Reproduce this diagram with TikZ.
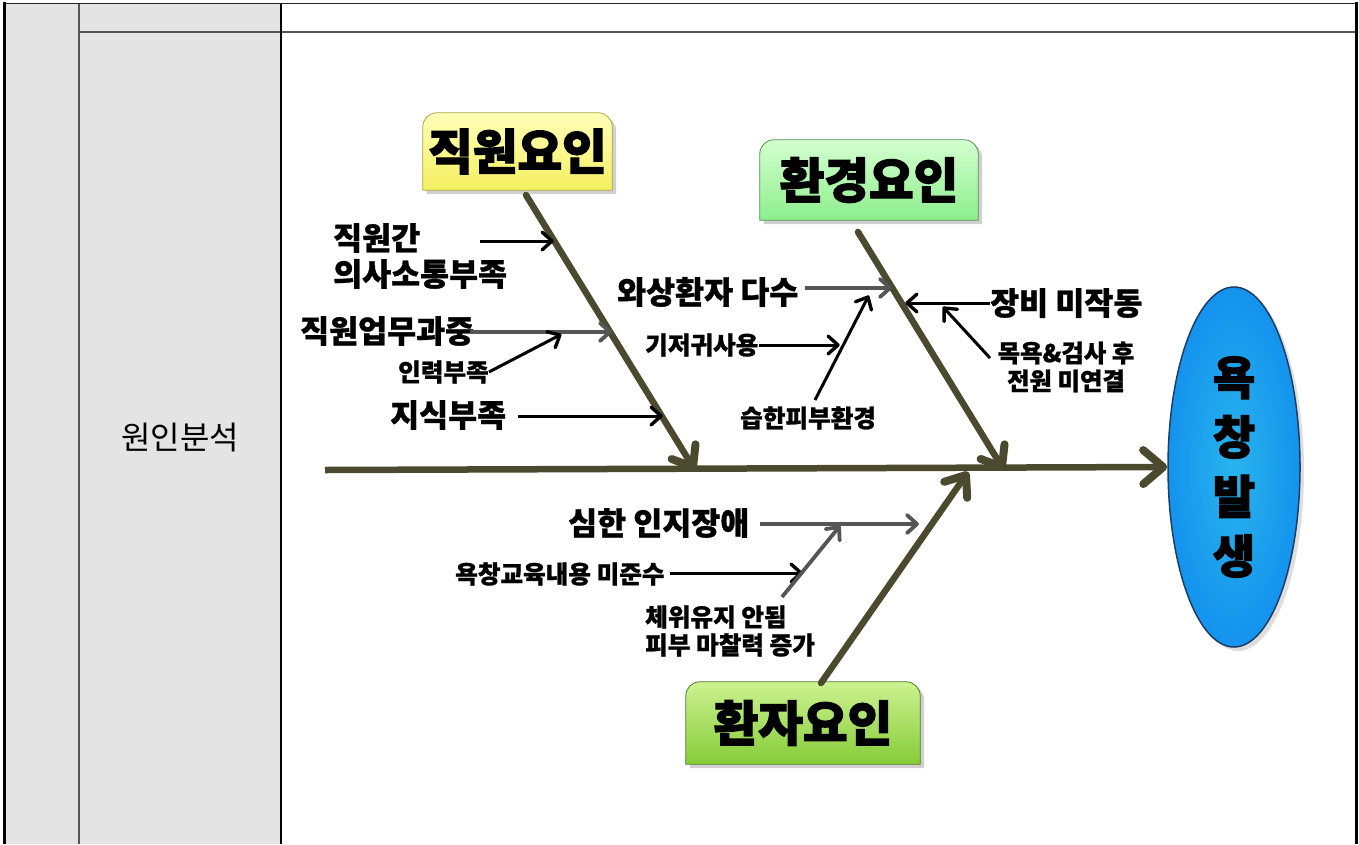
\documentclass[tikz,border=0pt]{standalone}
\usepackage{fontspec}
\setmainfont{Noto Sans CJK KR}
\newfontfamily\heavy{Noto Sans CJK KR}[BoldFeatures={FakeBold=2.5}]
\newfontfamily\semi{Noto Sans CJK KR}[BoldFeatures={FakeBold=1}]
\usetikzlibrary{backgrounds,shapes.geometric,decorations.markings}
\definecolor{bone}{HTML}{4B4A2E}
\definecolor{tablegrey}{HTML}{E4E4E4}
\definecolor{arrgrey}{HTML}{555555}
\definecolor{ellblue}{HTML}{17ADEB}
\definecolor{ellborder}{HTML}{1C3F66}
\definecolor{ytop}{HTML}{FFFFB8}\definecolor{ybot}{HTML}{F4F060}
\definecolor{gtop}{HTML}{D4FFD0}\definecolor{gbot}{HTML}{8CEE8C}
\definecolor{ltop}{HTML}{CCF290}\definecolor{lbot}{HTML}{86CC38}
\tikzset{
  chev/.style n args={4}{postaction={decorate, decoration={markings,
     mark=at position 1 with {\draw[draw=#4, line width=#1, line cap=round, line join=round] (-#2,#3) -- (0pt,0pt) -- (-#2,-#3);}}}},
  bonestyle/.style={draw=bone, line width=6.5pt, line cap=round, chev={8pt}{18pt}{14pt}{bone}},
  spinestyle/.style={draw=bone, line width=6.5pt, chev={8pt}{20pt}{17pt}{bone}},
  blk/.style={draw=black, line width=3pt, chev={3.4pt}{10pt}{9pt}{black}},
  gry/.style={draw=arrgrey, line width=3.8pt, chev={3.8pt}{10pt}{9pt}{arrgrey}},
  lab/.style={inner sep=0pt, anchor=west, font=\semi\bfseries\fontsize{31.5}{36}\selectfont},
  slab/.style={inner sep=0pt, anchor=west, font=\semi\bfseries\fontsize{24.6}{28}\selectfont},
  boxlab/.style={inner sep=0pt, font=\heavy\bfseries\fontsize{48.5}{52}\selectfont},
}
\begin{document}
\begin{tikzpicture}[x=1pt,y=-1pt]
\useasboundingbox (0,0) rectangle (1359,844);
% factor boxes (nodes)
\node[boxlab, minimum width=189pt, minimum height=77pt] (jw) at (517.5,151.5) {직원요인};
\node[boxlab, minimum width=218pt, minimum height=80pt] (hg) at (869,180) {환경요인};
\node[boxlab, minimum width=234pt, minimum height=82pt] (hj) at (803,723) {환자요인};
\node[draw=ellborder, line width=1.5pt, ellipse, minimum width=132pt, minimum height=360pt, inner sep=0pt,
      font=\heavy\bfseries\fontsize{46}{59.5}\selectfont, align=center,
      inner color=ellblue!92!white, outer color=ellblue!85!blue] (ell) at (1234,467) {욕\\창\\발\\생};
\begin{scope}[on background layer]
  % table
  \fill[white] (0,0) rectangle (1359,844);
  \fill[tablegrey] (5,4) rectangle (281,844);
  \draw[arrgrey, line width=1.6pt] (79,32) -- (1355,32);
  \draw[arrgrey, line width=1.2pt] (79,4) -- (79,844);
  \draw[black, line width=1.6pt] (281,4) -- (281,844);
  \draw[black!85, line width=1.6pt] (4,3.5) -- (1356,3.5);
  \draw[black, line width=3pt] (4.5,2) -- (4.5,844);
  \draw[black, line width=3pt] (1356,2) -- (1356,844);
  % box shapes
  \fill[black!30, opacity=0.6] ([shift={(4,4)}]jw.south west) [rounded corners=14pt] -- ([shift={(4,4)}]jw.north west) -- ([shift={(4,4)}]jw.north east) [sharp corners] -- ([shift={(4,4)}]jw.south east) -- cycle;
  \shade[top color=ytop, bottom color=ybot, draw=ybot!70!black, line width=0.8pt] (jw.south west) [rounded corners=14pt] -- (jw.north west) -- (jw.north east) [sharp corners] -- (jw.south east) -- cycle;
  \fill[black!30, opacity=0.6] ([shift={(4,4)}]hg.south west) [rounded corners=14pt] -- ([shift={(4,4)}]hg.north west) -- ([shift={(4,4)}]hg.north east) [sharp corners] -- ([shift={(4,4)}]hg.south east) -- cycle;
  \shade[top color=gtop, bottom color=gbot, draw=gbot!60!black, line width=0.8pt] (hg.south west) [rounded corners=14pt] -- (hg.north west) -- (hg.north east) [sharp corners] -- (hg.south east) -- cycle;
  \fill[black!30, opacity=0.6] ([shift={(4,4)}]hj.south west) [rounded corners=14pt] -- ([shift={(4,4)}]hj.north west) -- ([shift={(4,4)}]hj.north east) [sharp corners] -- ([shift={(4,4)}]hj.south east) -- cycle;
  \shade[top color=ltop, bottom color=lbot, draw=lbot!60!black, line width=0.8pt] (hj.south west) [rounded corners=14pt] -- (hj.north west) -- (hj.north east) [sharp corners] -- (hj.south east) -- cycle;
  \fill[black!25, opacity=0.5] (1238,471) ellipse [x radius=66pt, y radius=180pt];
\end{scope}
\node[inner sep=0pt, font=\fontsize{32}{36}\selectfont] (wa) at (180,438) {원인분석};

% bones
\coordinate (s0) at (325,470);
\coordinate (b1s) at (526,195);
\coordinate (b1e) at (693,467);
\coordinate (b2s) at (858,232);
\coordinate (b2e) at (1002,467);
\coordinate (b3s) at (821,683);
\coordinate (b3e) at (966,475);
\draw[spinestyle] (s0) -- ([xshift=-4pt]ell.west);
\draw[bonestyle] (b1s) -- (b1e);
\draw[bonestyle] (b2s) -- (b2e);
\draw[bonestyle] (b3s) -- (b3e);

% staff factors
\node[lab, align=left] (t1) at (333,256) {직원간\\의사소통부족};
\coordinate (t1s) at (480,241); \coordinate (t1e) at (552,241);
\draw[blk] (t1s) -- (t1e);
\node[lab] (t2) at (300,331) {직원업무과중};
\coordinate (t2s) at (470,332); \coordinate (t2e) at (610,332);
\draw[gry] (t2s) -- (t2e);
\node[slab] (t3) at (398,372) {인력부족};
\coordinate (t3e) at (560,335);
\draw[blk] (t3.east) -- (t3e);
\node[lab] (t4) at (390,415) {지식부족};
\coordinate (t4s) at (518,416); \coordinate (t4e) at (661,416);
\draw[blk] (t4s) -- (t4e);

% environment factors
\node[lab] (t5) at (617,292) {와상환자 다수};
\coordinate (t5s) at (805,288); \coordinate (t5e) at (890,288);
\draw[gry] (t5s) -- (t5e);
\node[slab] (t6) at (645,345) {기저귀사용};
\coordinate (t6e) at (838,345);
\draw[blk] (t6.east) -- (t6e);
\node[slab] (t7) at (740,418) {습한피부환경};
\coordinate (t7s) at (815,400); \coordinate (t7e) at (868,297);
\draw[blk] (t7s) -- (t7e);
\node[lab] (t8) at (990,303) {장비 미작동};
\coordinate (t8e) at (907,303);
\draw[blk] (t8.west) -- (t8e);
\node[inner sep=0pt, align=center, font=\semi\bfseries\fontsize{24.4}{28}\selectfont] (t9) at (1066,367) {목욕\&검사 후\\전원 미연결};
\coordinate (t9s) at (990,358); \coordinate (t9e) at (944,308);
\draw[blk] (t9s) -- (t9e);

% patient factors
\node[lab] (t10) at (568,523) {심한 인지장애};
\coordinate (t10s) at (760,524); \coordinate (t10e) at (917,524);
\draw[gry] (t10s) -- (t10e);
\node[slab] (t11) at (455,574) {욕창교육내용 미준수};
\coordinate (t11s) at (670,573); \coordinate (t11e) at (801,573);
\draw[blk] (t11s) -- (t11e);
\node[slab, align=left] (t12) at (645,631) {체위유지 안됨\\피부 마찰력 증가};
\coordinate (t12s) at (782,597); \coordinate (t12e) at (839,527);
\draw[gry] (t12s) -- (t12e);
\end{tikzpicture}
\end{document}
